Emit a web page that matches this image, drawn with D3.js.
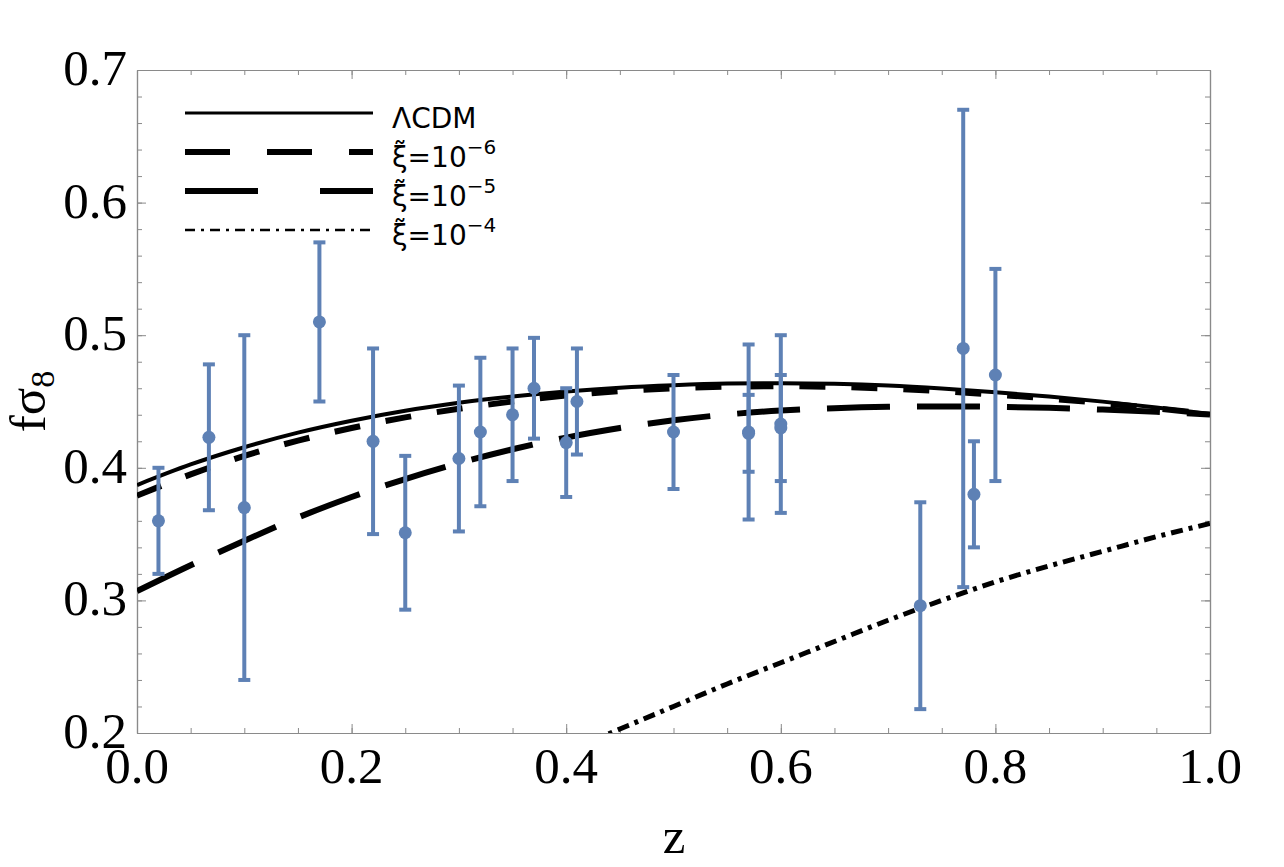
<!DOCTYPE html>
<html>
<head>
<meta charset="utf-8">
<script src="https://cdn.jsdelivr.net/npm/d3@7"></script>
<style>
  body { margin: 0; background: #fff; }
  svg { display: block; }
</style>
</head>
<body>
<svg id="chart" width="1284" height="867"></svg>
<script>
// observational f sigma_8 points
const zObs = [0.02, 0.067, 0.10, 0.17, 0.22, 0.25, 0.30, 0.32, 0.35, 0.37, 0.40, 0.41, 0.50, 0.57, 0.57, 0.60, 0.60, 0.73, 0.77, 0.78, 0.80];
const fsObs = [0.360, 0.423, 0.37, 0.51, 0.42, 0.351, 0.407, 0.427, 0.440, 0.460, 0.419, 0.450, 0.427, 0.427, 0.426, 0.433, 0.430, 0.296, 0.490, 0.380, 0.470];
const errObs = [0.040, 0.055, 0.13, 0.06, 0.07, 0.058, 0.055, 0.056, 0.050, 0.038, 0.041, 0.040, 0.043, 0.066, 0.029, 0.067, 0.040, 0.078, 0.180, 0.040, 0.080];

// model curves
const zGrid = [0, 0.05, 0.10, 0.15, 0.20, 0.25, 0.30, 0.35, 0.40, 0.45, 0.50, 0.55, 0.60, 0.65, 0.70, 0.75, 0.80, 0.85, 0.90, 0.95, 1.00];
const lcdm = [0.387, 0.4025, 0.4155, 0.4265, 0.4355, 0.443, 0.449, 0.4537, 0.4575, 0.4604, 0.4623, 0.4635, 0.4638, 0.4633, 0.462, 0.4598, 0.457, 0.4537, 0.4499, 0.4455, 0.4405];
const xi6 = [0.379, 0.395, 0.409, 0.4205, 0.430, 0.438, 0.4445, 0.450, 0.4545, 0.4578, 0.460, 0.4612, 0.4615, 0.461, 0.4597, 0.4577, 0.4552, 0.4522, 0.4487, 0.4448, 0.4405];
const xi5 = [0.307, 0.3265, 0.345, 0.3625, 0.378, 0.3915, 0.4035, 0.414, 0.4228, 0.430, 0.4358, 0.4402, 0.4432, 0.445, 0.446, 0.4463, 0.446, 0.4452, 0.4439, 0.4422, 0.4402];
const zGrid4 = [0.40, 0.45, 0.50, 0.55, 0.60, 0.65, 0.70, 0.75, 0.80, 0.85, 0.90, 0.95, 1.00];
const xi4 = [0.186, 0.203, 0.220, 0.237, 0.253, 0.269, 0.285, 0.300, 0.314, 0.326, 0.337, 0.348, 0.358];

const xTicks = [0, 0.2, 0.4, 0.6, 0.8, 1.0];
const yTicks = [0.2, 0.3, 0.4, 0.5, 0.6, 0.7];

const legendNames = ["ΛCDM", "ξ̃=10", "ξ̃=10", "ξ̃=10"];
const legendExp = ["", "−6", "−5", "−4"];

const svg = d3.select("#chart");
const pLeft = 137, pRight = 1210, pTop = 70, pBottom = 733;

const x = d3.scaleLinear().domain([0, 1]).range([pLeft, pRight]);
const y = d3.scaleLinear().domain([0.2, 0.7]).range([pBottom, pTop]);

const blue = "#5e81b5";
const frameCol = "#8a8a8a";
const serif = "'Liberation Serif', 'Times New Roman', serif";

svg.append("defs").append("clipPath").attr("id", "plotClip")
    .append("rect")
    .attr("x", pLeft).attr("y", pTop)
    .attr("width", pRight - pLeft).attr("height", pBottom - pTop);

// frame with inward ticks on every side
const xMinor = d3.range(0, 1.0001, 0.05);
const yMinor = d3.range(0.2, 0.7001, 0.02);

function frame(axisFn, scale, values, size, tr) {
    const g = svg.append("g")
        .attr("transform", tr)
        .call(axisFn(scale).tickValues(values).tickSizeInner(-size).tickSizeOuter(0).tickFormat(""));
    g.select(".domain").attr("stroke", frameCol).attr("stroke-width", 1.2);
    g.selectAll(".tick line").attr("stroke", frameCol).attr("stroke-width", 1);
    return g;
}

frame(d3.axisBottom, x, xMinor, 5, `translate(0,${pBottom})`);
frame(d3.axisBottom, x, xTicks, 9, `translate(0,${pBottom})`);
frame(d3.axisTop, x, xMinor, 5, `translate(0,${pTop})`);
frame(d3.axisTop, x, xTicks, 9, `translate(0,${pTop})`);
frame(d3.axisLeft, y, yMinor, 5, `translate(${pLeft},0)`);
frame(d3.axisLeft, y, yTicks, 9, `translate(${pLeft},0)`);
frame(d3.axisRight, y, yMinor, 5, `translate(${pRight},0)`);
frame(d3.axisRight, y, yTicks, 9, `translate(${pRight},0)`);

// tick labels
svg.append("g").selectAll("text")
    .data(xTicks)
    .enter().append("text")
    .attr("x", d => x(d))
    .attr("y", 783)
    .attr("text-anchor", "middle")
    .attr("font-family", serif)
    .attr("font-size", 51)
    .text(d => d3.format(".1f")(d));

svg.append("g").selectAll("text")
    .data(yTicks)
    .enter().append("text")
    .attr("x", 127)
    .attr("y", d => y(d) + 15)
    .attr("text-anchor", "end")
    .attr("font-family", serif)
    .attr("font-size", 51)
    .text(d => d3.format(".1f")(d));

// axis titles
svg.append("text")
    .attr("x", 674).attr("y", 853)
    .attr("text-anchor", "middle")
    .attr("font-family", serif)
    .attr("font-size", 51)
    .text("z");

const yLab = svg.append("text")
    .attr("transform", `translate(45,${(pTop + pBottom) / 2}) rotate(-90)`)
    .attr("text-anchor", "middle")
    .attr("font-family", serif)
    .attr("font-size", 51);
yLab.append("tspan").text("fσ");
yLab.append("tspan").attr("font-size", 34).attr("dy", 9).text("8");

// model curves
const plot = svg.append("g").attr("clip-path", "url(#plotClip)");
const line = d3.line().x(d => x(d[0])).y(d => y(d[1])).curve(d3.curveMonotoneX);

const curves = [
    { z: zGrid, v: xi5, w: 6, dash: "63,27" },
    { z: zGrid, v: xi6, w: 6, dash: "26,26" },
    { z: zGrid, v: lcdm, w: 4, dash: null },
    { z: zGrid4, v: xi4, w: 5, dash: "12,6,4,6" }
];

curves.forEach(c => {
    plot.append("path")
        .datum(c.z.map((z, i) => [z, c.v[i]]))
        .attr("d", line)
        .attr("fill", "none")
        .attr("stroke", "#000")
        .attr("stroke-width", c.w)
        .attr("stroke-dasharray", c.dash);
});

// data with error bars
const pts = zObs.map((z, i) => ({ z: z, v: fsObs[i], e: errObs[i] }));
const bars = svg.append("g");

bars.selectAll(".bar")
    .data(pts)
    .enter().append("line")
    .attr("x1", d => x(d.z)).attr("x2", d => x(d.z))
    .attr("y1", d => y(d.v - d.e)).attr("y2", d => y(d.v + d.e))
    .attr("stroke", blue).attr("stroke-width", 4);

[-1, 1].forEach(s => {
    bars.selectAll(".cap" + s)
        .data(pts)
        .enter().append("line")
        .attr("x1", d => x(d.z) - 6).attr("x2", d => x(d.z) + 6)
        .attr("y1", d => y(d.v + s * d.e)).attr("y2", d => y(d.v + s * d.e))
        .attr("stroke", blue).attr("stroke-width", 4);
});

bars.selectAll("circle")
    .data(pts)
    .enter().append("circle")
    .attr("cx", d => x(d.z))
    .attr("cy", d => y(d.v))
    .attr("r", 6.5)
    .attr("fill", blue);

// legend
const legRows = [113, 152, 191, 230];
const legStyle = [
    { w: 3, dash: null },
    { w: 6, dash: "45,37" },
    { w: 6, dash: "73,62" },
    { w: 2.5, dash: "10,6,3,6" }
];
const leg = svg.append("g");
legRows.forEach((ry, i) => {
    leg.append("line")
        .attr("x1", 185).attr("x2", 373)
        .attr("y1", ry).attr("y2", ry)
        .attr("stroke", "#000")
        .attr("stroke-width", legStyle[i].w)
        .attr("stroke-dasharray", legStyle[i].dash);
    const t = leg.append("text")
        .attr("x", 392).attr("y", ry + 15)
        .attr("font-family", "'DejaVu Sans', Verdana, sans-serif")
        .attr("font-size", 28);
    t.append("tspan").text(legendNames[i]);
    if (legendExp[i]) {
        t.append("tspan").attr("dy", -13).attr("font-size", 20).text(legendExp[i]);
    }
});
</script>
</body>
</html>
